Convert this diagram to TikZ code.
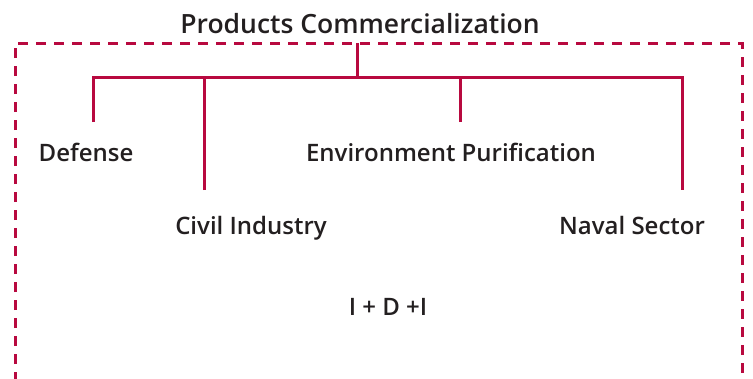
\documentclass[tikz,border=0pt]{standalone}
\usepackage{fontspec}
\setmainfont{Open Sans}[BoldFont={Open Sans Semibold}]
\definecolor{crimson}{HTML}{B8093F}
\definecolor{ink}{HTML}{231F20}
\tikzset{
  branch/.style={draw=crimson,line width=3pt},
  frame/.style={draw=crimson,line width=3pt,dash pattern=on 10pt off 8pt},
  lbl/.style={text=ink,font=\fontsize{24}{28}\selectfont\bfseries,inner sep=0pt},
}
\begin{document}
\begin{tikzpicture}[x=1pt,y=-1pt]
\useasboundingbox (0,0) rectangle (753,378);

\node[lbl,font=\fontsize{26.5}{30}\selectfont\bfseries] (title) at (360,24) {Products Commercialization};
\begin{scope}
\clip (0,0) rectangle (753,378);
\draw[frame] (15,400)--(15,43)--(742,43)--(742,400);
\end{scope}

\coordinate (root) at (357,43);
\coordinate (bar) at (357,77);
\coordinate (barL) at (93,77);
\coordinate (barR) at (682,77);

\node[lbl] (def) at (86,152) {Defense};
\node[lbl] (env) at (451,152) {Environment Purification};
\node[lbl] (civ) at (251,228) {Civil Industry};
\node[lbl] (nav) at (632,225) {Naval Sector};
\node[lbl] (idi) at (388,307) {I + D +I};

\coordinate (defend) at (93,122);
\coordinate (civend) at (204,190);
\coordinate (envend) at (460,122);
\coordinate (navend) at (682,190);

\draw[branch] (root)--(bar);
\draw[branch] (defend)--(barL)--(barR)--(navend);
\draw[branch] (civend)--(civend|-bar);
\draw[branch] (envend)--(envend|-bar);
\end{tikzpicture}
\end{document}
